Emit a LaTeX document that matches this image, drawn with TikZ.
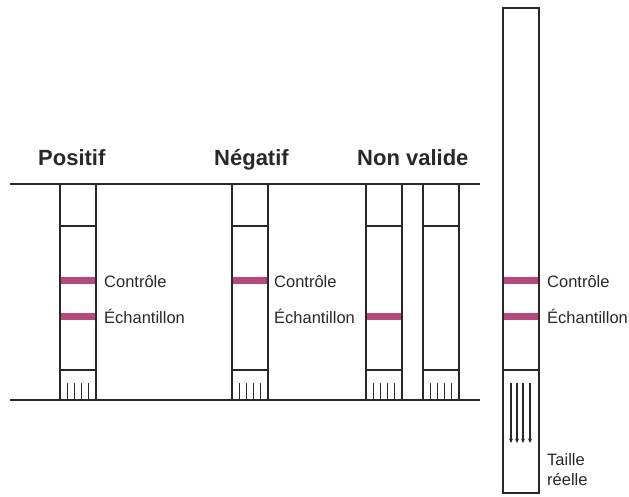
\documentclass[tikz,border=0pt]{standalone}
\usepackage{fontspec}
\setmainfont{Liberation Sans}
\usetikzlibrary{arrows.meta, positioning}
\definecolor{stripline}{RGB}{40,40,40}
\definecolor{band}{RGB}{185,72,122}
\tikzset{
  strip/.style={draw=stripline, line width=1.3pt},
  bandbar/.style={fill=band, draw=none},
  heading/.style={font=\bfseries\fontsize{22}{26}\selectfont, anchor=base west,
    inner sep=0pt, text=stripline},
  tag/.style={font=\fontsize{16.5}{20}\selectfont, anchor=base west,
    inner sep=0pt, text=stripline},
  wick/.style={draw=stripline, line width=1.1pt},
  flow/.style={wick, -{Stealth[length=4.5pt, width=4pt]}},
}

\begin{document}
\begin{tikzpicture}[x=1pt, y=-1pt]
  \useasboundingbox (0,0) rectangle (629,496);

  % frame lines
  \coordinate (topL) at (10,184);  \coordinate (topR) at (480,184);
  \coordinate (botL) at (10,400);  \coordinate (botR) at (480,400);
  \draw[strip] (topL) -- (topR);
  \draw[strip] (botL) -- (botR);

  % headings
  \node[heading] (positif) at (38,165) {Positif};
  \node[heading] (negatif) at (214,165) {Négatif};
  \node[heading] (nonvalide) at (357,165) {Non valide};

  % test strips: x / control band / sample band
  \foreach \x/\c/\e in {60/1/1, 232/1/0, 366/0/1, 423/0/0} {
    \ifnum\c=1 \fill[bandbar] (\x,276.5) rectangle ++(36,7); \fi
    \ifnum\e=1 \fill[bandbar] (\x,312.5) rectangle ++(36,7); \fi
    \draw[strip] (\x,184) rectangle ++(36,216);
    \draw[strip] (\x,226) -- ++(36,0) (\x,370) -- ++(36,0);
    \foreach \d in {7.5,14.5,21.5,28.5}
      \draw[wick] (\x+\d,383) -- (\x+\d,400);
  }

  % band labels
  \node[tag] (ctrlP) at (104,287) {Contrôle};
  \node[tag] (echP)  at (104,323) {Échantillon};
  \node[tag] (ctrlN) at (274,287) {Contrôle};
  \node[tag] (echN)  at (274,323) {Échantillon};

  % real size strip
  \fill[bandbar] (503,276.5) rectangle ++(36,7);
  \fill[bandbar] (503,312.5) rectangle ++(36,7);
  \draw[strip] (503,8) rectangle (539,493);
  \draw[strip] (503,370) -- ++(36,0);
  \foreach \d in {8,14,20,27}
    \draw[flow] (503+\d,383) -- (503+\d,443);

  \node[tag] (ctrlR)   at (547,287) {Contrôle};
  \node[tag] (echR)    at (547,323) {Échantillon};
  \node[tag] (taille)  at (547,465) {Taille};
  \node[tag] (reelle)  at (547,485) {réelle};
\end{tikzpicture}
\end{document}
